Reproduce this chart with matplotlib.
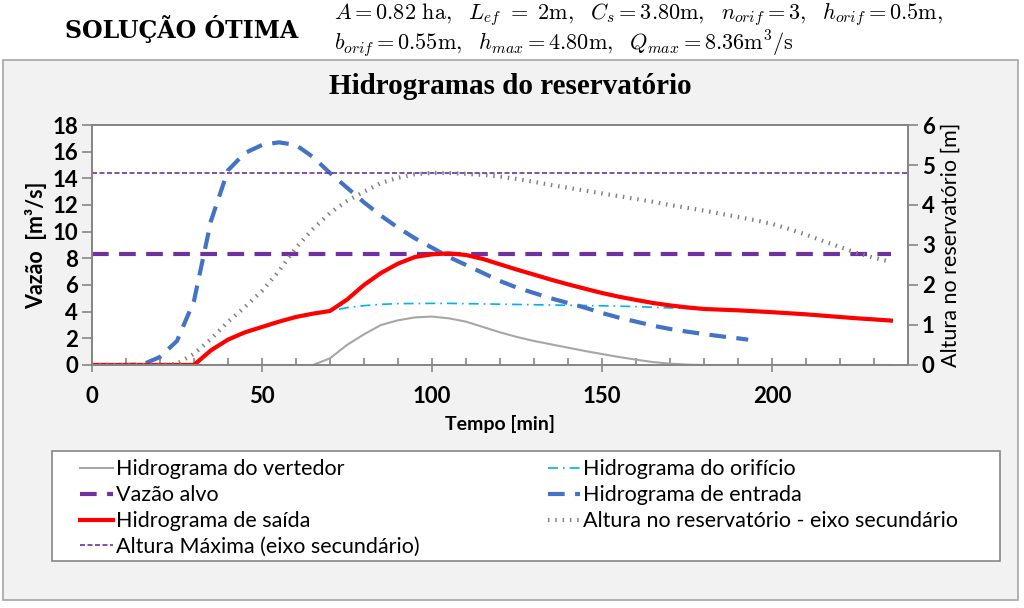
import matplotlib.pyplot as plt
import matplotlib.patches as patches
import numpy as np

plt.rcParams['mathtext.fontset'] = 'cm'

# tempo [min]
t_in = [0, 5, 10, 15, 20, 25, 30, 35, 40, 45, 50, 55, 60, 65, 70, 75, 80, 85, 90, 95,
        100, 105, 110, 115, 120, 125, 130, 135, 140, 145, 150, 155, 160, 165, 170, 175,
        180, 185, 190, 193]
q_in = [0, 0, 0, 0.05, 0.6, 1.8, 4.8, 10.8, 14.6, 15.9, 16.5, 16.7, 16.5, 15.6, 14.4, 13.3,
        12.2, 11.2, 10.3, 9.5, 8.8, 8.1, 7.5, 6.9, 6.3, 5.8, 5.4, 5.0, 4.65, 4.3, 3.9,
        3.55, 3.25, 2.95, 2.7, 2.5, 2.32, 2.15, 2.0, 1.9]

t_out = [0, 5, 10, 15, 20, 25, 30, 35, 40, 45, 50, 55, 60, 65, 70, 75, 80, 85, 90, 95,
         100, 105, 110, 115, 120, 125, 130, 135, 140, 145, 150, 155, 160, 165, 170, 175,
         180, 185, 190, 195, 200, 205, 210, 215, 220, 225, 230, 235]
q_out = [0, 0, 0, 0, 0, 0, 0, 1.1, 1.9, 2.45, 2.85, 3.25, 3.6, 3.85, 4.05, 4.9, 6.0, 6.9,
         7.6, 8.1, 8.3, 8.37, 8.25, 7.95, 7.55, 7.15, 6.78, 6.4, 6.05, 5.72, 5.4, 5.12,
         4.88, 4.65, 4.47, 4.32, 4.2, 4.15, 4.1, 4.03, 3.96, 3.88, 3.8, 3.7, 3.6, 3.5,
         3.42, 3.33]
q_orif = [0, 0, 0, 0, 0, 0, 0, 1.1, 1.9, 2.45, 2.85, 3.25, 3.6, 3.85, 4.05, 4.3, 4.45,
          4.55, 4.6, 4.61, 4.62, 4.62, 4.6, 4.58, 4.56, 4.54, 4.52, 4.5, 4.48, 4.46, 4.44,
          4.41, 4.38, 4.33, 4.28, 4.24, 4.2, 4.15, 4.1, 4.03, 3.96, 3.88, 3.8, 3.7, 3.6,
          3.5, 3.42, 3.33]
q_vert = [0, 0, 0, 0, 0, 0, 0, 0, 0, 0, 0, 0, 0, 0, 0.5, 1.5, 2.3, 3.0, 3.35, 3.57, 3.63,
          3.5, 3.25, 2.85, 2.45, 2.1, 1.8, 1.55, 1.3, 1.05, 0.82, 0.6, 0.4, 0.22, 0.1, 0.03,
          0, 0, 0, 0, 0, 0, 0, 0, 0, 0, 0, 0]
h_res = [0, 0, 0, 0, 0, 0.03, 0.28, 0.65, 1.08, 1.45, 1.85, 2.35, 2.93, 3.4, 3.8, 4.1,
         4.33, 4.55, 4.68, 4.77, 4.8, 4.8, 4.78, 4.75, 4.71, 4.65, 4.58, 4.5, 4.43, 4.36,
         4.29, 4.22, 4.15, 4.08, 4.0, 3.93, 3.86, 3.78, 3.7, 3.62, 3.53, 3.4, 3.26, 3.1,
         2.95, 2.8, 2.68, 2.58]

q_alvo = 8.36
h_max = 4.8
t_fim = 240

fig = plt.figure(figsize=(10.24, 6.08), dpi=100)

# painel cinza
fig.patches.append(patches.Rectangle((0.003, 0.013), 0.991, 0.888, transform=fig.transFigure,
                                     facecolor='#f2f2f2', edgecolor='#a6a6a6', lw=1.2, zorder=-10))

# cabecalho
fig.text(0.063, 0.953, 'SOLUÇÃO ÓTIMA', fontsize=17, fontweight='bold', family='DejaVu Serif',
         va='center', ha='left')
cab = (r'$A = 0.82\ \mathrm{ha},\ \ L_{ef}\ =\ 2\mathrm{m},\ \ C_s = 3.80\mathrm{m},\ \ '
       r'n_{orif} = 3,\ \ h_{orif} = 0.5\mathrm{m},$' + '\n' +
       r'$b_{orif} = 0.55\mathrm{m},\ \ h_{max} = 4.80\mathrm{m},\ \ '
       r'Q_{max} = 8.36\mathrm{m}^3/\mathrm{s}$')
fig.text(0.326, 0.951, cab, fontsize=16, va='center', ha='left', linespacing=1.0)

ax = fig.add_axes([0.0898, 0.3997, 0.7969, 0.3947])
ax2 = ax.twinx()

l_vert, = ax.plot(t_out, q_vert, color='#a6a6a6', lw=1.5, label='Hidrograma do vertedor')
l_orif, = ax.plot(t_out, q_orif, color='#00b0f0', lw=1.2, linestyle=(0, (6, 3, 1, 3)),
                  label='Hidrograma do orifício')
l_alvo, = ax.plot([0, t_out[-1]], [q_alvo, q_alvo], color='#7030a0', lw=3,
                  linestyle=(0, (4, 2.5)), label='Vazão alvo')
l_in, = ax.plot(t_in, q_in, color='#4472c4', lw=3, linestyle=(0, (4, 2.5)),
                label='Hidrograma de entrada')
l_out, = ax.plot(t_out, q_out, color='#ff0000', lw=3, label='Hidrograma de saída')

l_h, = ax2.plot(t_out, h_res, color='#7f7f7f', lw=3, linestyle=(0, (0.35, 1.4)),
                label='Altura no reservatório - eixo secundário')
l_hmax, = ax2.plot([0, t_fim], [h_max, h_max], color='#7030a0', lw=1.2,
                   linestyle=(0, (3, 1.5)), label='Altura Máxima (eixo secundário)')

ax.set_xlim(0, t_fim)
ax.set_ylim(0, 18)
ax2.set_ylim(0, 6)
ax.set_xticks([0, 50, 100, 150, 200])
ax.set_xticks(np.arange(10, 240, 10), minor=True)
ax.set_yticks(np.arange(0, 19, 2))
ax2.set_yticks(np.arange(0, 7, 1))

for a in (ax, ax2):
    for s in a.spines.values():
        s.set_color('#868686')
        s.set_linewidth(1.3)

ax.tick_params(axis='x', which='major', direction='inout', length=10, width=1.2,
               color='#868686', pad=10)
ax.tick_params(axis='x', which='minor', direction='in', length=5, width=1.2, color='#868686')
ax.tick_params(axis='y', direction='out', length=7, width=1.2, color='#868686', pad=3)
ax2.tick_params(axis='y', direction='out', length=7, width=1.2, color='#868686', pad=3)

for lab in ax.get_xticklabels() + ax.get_yticklabels() + ax2.get_yticklabels():
    lab.set_family('Lato')
    lab.set_fontweight('bold')
    lab.set_fontsize(16)

ax.set_xlabel('Tempo [min]', family='Lato', fontweight='bold', fontsize=14, labelpad=6)
ax.set_ylabel('Vazão  [m³/s]', family='Lato', fontweight='bold', fontsize=15.5, labelpad=4)
ax2.set_ylabel('Altura no reservatório [m]', family='Lato', fontsize=15.5, labelpad=4)

fig.text(0.498, 0.857, 'Hidrogramas do reservatório', family='Liberation Serif',
         fontweight='bold', fontsize=21, ha='center', va='center')

# caixa da legenda
fig.patches.append(patches.Rectangle((0.0508, 0.0773), 0.9258, 0.1809, transform=fig.transFigure,
                                     facecolor='white', edgecolor='#868686', lw=1.2, zorder=-5))
handles = [l_vert, l_alvo, l_out, l_hmax, l_orif, l_in, l_h]
fig.legend(handles, [h.get_label() for h in handles], ncol=2, loc='upper left',
           bbox_to_anchor=(0.07, 0.2585), frameon=False, prop={'family': 'Lato', 'size': 15.5},
           handlelength=1.5, handletextpad=0.15, columnspacing=5.95, labelspacing=0.27,
           borderaxespad=0)

fig.savefig('out.png', dpi=100)
